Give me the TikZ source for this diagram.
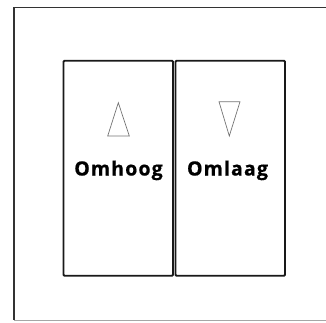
\documentclass[tikz,border=0pt]{standalone}
\usepackage{fontspec}
\setmainfont{Open Sans}
\newfontfamily\lbl[LetterSpace=5.5,FakeBold=0.6]{Open Sans Bold}
\begin{document}
\begin{tikzpicture}[x=1pt,y=-1pt,
  button/.style={draw=black!90,line width=1.9pt,rounded corners=1pt,minimum width=109.5pt,minimum height=215pt,inner sep=0pt},
  arrowtri/.style={draw=black!55,line width=0.7pt,line join=miter},
  lbltext/.style={font=\lbl\fontsize{19.6}{22}\selectfont,text=black,anchor=base,inner sep=0pt}]
\useasboundingbox (0,0) rectangle (326,322);
% outer frame
\draw[black!80,line width=1.5pt] (330,7.5) -- (14,7.5) -- (14,320);
\draw[black!35,line width=1pt] (14,320.3) -- (330,320.3);
% buttons
\node[button] (up) at (118.25,168.2) {};
\node[button] (down) at (230.25,168.2) {};
% triangles
\draw[arrowtri] (118.3,102.7) -- (129.3,136) -- (107.7,136) -- cycle;
\draw[arrowtri] (219,101.7) -- (240,101.7) -- (229.3,136) -- cycle;
% labels
\node[lbltext] (t1) at (118.5,175.5) {Omhoog};
\node[lbltext] (t2) at (227.5,175.5) {Omlaag};
\end{tikzpicture}
\end{document}
